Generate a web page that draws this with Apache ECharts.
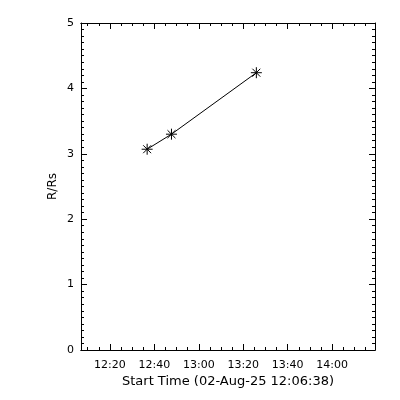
<!DOCTYPE html>
<html><head><meta charset="utf-8">
<script src="https://cdn.jsdelivr.net/npm/echarts@6/dist/echarts.min.js"></script>
<style>html,body{margin:0;padding:0;background:#fff}#c{width:400px;height:400px}</style>
</head><body><div id="c"></div>
<script>
// Data
const times = ["12:36:45", "12:47:42", "13:25:54"];
const heights = [3.07, 3.30, 4.24];
const xTickLabels = ["12:20", "12:40", "13:00", "13:20", "13:40", "14:00"];
const yTickLabels = ["0", "1", "2", "3", "4", "5"];
const xTitle = "Start Time (02-Aug-25 12:06:38)";
const yTitle = "R/Rs";

function toMin(s) { const p = s.split(":").map(Number); return (p[0] - 12) * 60 + p[1] + (p[2] || 0) / 60; }
function fmt(m) { const h = 12 + Math.floor(m / 60), mm = Math.round(m % 60); return h + ":" + String(mm).padStart(2, "0"); }

const xMin = 6.98, xMax = 139.3;
const majorVals = xTickLabels.map(toMin);
const minorVals = [];
for (let v = 10; v <= 135; v += 5) if (majorVals.indexOf(v) < 0) minorVals.push(v);

const font = { fontFamily: "DejaVu Sans", fontSize: 11, color: "#000" };
const titleFont = { fontFamily: "DejaVu Sans", fontSize: 13, color: "#000" };
const lineStyle = { color: "#000", width: 1 };

function xAx(pos, vals, len, labels, name) {
  return {
    type: "value", position: pos, min: xMin, max: xMax,
    axisLine: { show: true, lineStyle },
    splitLine: { show: false },
    axisTick: { show: true, inside: true, length: len, lineStyle, customValues: vals },
    axisLabel: labels ? Object.assign({ show: true, margin: 10, customValues: vals, formatter: v => fmt(v) }, font) : { show: false },
    name: name || "", nameLocation: "middle", nameGap: 25, nameMoveOverlap: false, nameTextStyle: titleFont
  };
}
function yAx(pos, labels, name) {
  return {
    type: "value", position: pos, min: 0, max: 5, interval: 1,
    axisLine: { show: true, lineStyle },
    splitLine: { show: false },
    axisTick: { show: true, inside: true, length: 6, lineStyle },
    minorTick: { show: true, splitNumber: 10, length: 3, lineStyle },
    minorSplitLine: { show: false },
    axisLabel: labels ? Object.assign({ show: true, margin: 7, formatter: v => yTickLabels[v] }, font) : { show: false },
    name: name || "", nameLocation: "middle", nameGap: 22, nameMoveOverlap: false,
    nameTextStyle: Object.assign({}, titleFont, { fontSize: 12 })
  };
}

const chart = echarts.init(document.getElementById("c"), null, { renderer: "canvas" });
chart.setOption({
  animation: false,
  backgroundColor: "#fff",
  grid: { left: 81, right: 25, top: 23, bottom: 50, containLabel: false },
  xAxis: [
    xAx("bottom", majorVals, 6, true, xTitle),
    xAx("bottom", minorVals, 3, false),
    xAx("top", majorVals, 6, false),
    xAx("top", minorVals, 3, false)
  ],
  yAxis: [yAx("left", true, yTitle), yAx("right", false)],
  series: [{
    type: "line", xAxisIndex: 0, yAxisIndex: 0,
    data: times.map((t, i) => [toMin(t), heights[i]]),
    lineStyle: { color: "#000", width: 1 },
    symbol: "path://M0,-5L0,5M-5,0L5,0M-3.6,-3.6L3.6,3.6M-3.6,3.6L3.6,-3.6",
    symbolSize: 11,
    itemStyle: { color: "#000", borderColor: "#000", borderWidth: 1 }
  }]
});
</script></body></html>
